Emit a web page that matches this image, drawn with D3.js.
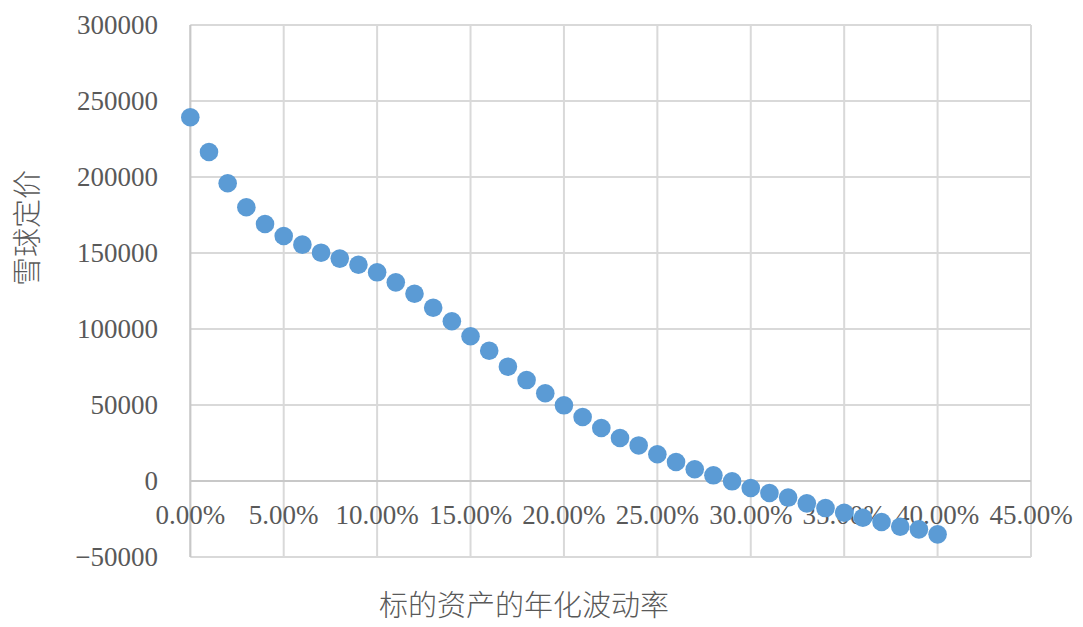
<!DOCTYPE html>
<html>
<head>
<meta charset="utf-8">
<script src="https://cdn.jsdelivr.net/npm/d3@7"></script>
<style>
  html, body { margin: 0; padding: 0; background: #fff; }
  svg { display: block; }
</style>
</head>
<body>
<svg id="chart" width="1083" height="627"></svg>
<script>
// ---- data ----
const volatility = [0,0.01,0.02,0.03,0.04,0.05,0.06,0.07,0.08,0.09,0.10,0.11,0.12,0.13,0.14,0.15,0.16,0.17,0.18,0.19,0.20,0.21,0.22,0.23,0.24,0.25,0.26,0.27,0.28,0.29,0.30,0.31,0.32,0.33,0.34,0.35,0.36,0.37,0.38,0.39,0.40];
const snowballPrice = [239300,216450,195900,180100,169100,161200,155500,150200,146300,142300,137300,130700,123200,114000,105100,95200,85700,75200,66400,57700,49800,42100,34900,28300,23400,17600,12500,7700,3750,-200,-4600,-7900,-10900,-14700,-17800,-20900,-24200,-27000,-30100,-31800,-35100];
const xTicks = [0,0.05,0.10,0.15,0.20,0.25,0.30,0.35,0.40,0.45];
const yTicks = [-50000,0,50000,100000,150000,200000,250000,300000];
const xTitle = "标的资产的年化波动率";
const yTitle = "雪球定价";

// ---- layout ----
(function () {
const svg = d3.select("#chart");
const mLeft = 190.3, mRight = 1031, mTop = 25, mBottom = 557;
const x = d3.scaleLinear().domain([0, 0.45]).range([mLeft, mRight]);
const y = d3.scaleLinear().domain([-50000, 300000]).range([mBottom, mTop]);
const numFont = "'Liberation Serif', 'Times New Roman', serif";
const cjkFont = "'Noto Sans CJK SC', sans-serif";
const textColor = "#595959";

// gridlines
svg.append("g").selectAll("line").data(yTicks.filter(d => d !== 0)).join("line")
  .attr("x1", mLeft).attr("x2", mRight)
  .attr("y1", d => y(d)).attr("y2", d => y(d))
  .attr("stroke", "#d9d9d9").attr("stroke-width", 2);
svg.append("g").selectAll("line").data(xTicks.filter(d => d !== 0)).join("line")
  .attr("y1", mTop).attr("y2", mBottom)
  .attr("x1", d => x(d)).attr("x2", d => x(d))
  .attr("stroke", "#d9d9d9").attr("stroke-width", 2);

// axis lines
svg.append("line").attr("x1", mLeft).attr("x2", mRight).attr("y1", y(0)).attr("y2", y(0))
  .attr("stroke", "#c8c8c8").attr("stroke-width", 2.2);
svg.append("line").attr("x1", x(0)).attr("x2", x(0)).attr("y1", mTop).attr("y2", mBottom)
  .attr("stroke", "#c8c8c8").attr("stroke-width", 2.2);

// y tick labels
svg.append("g").selectAll("text").data(yTicks).join("text")
  .attr("x", 158).attr("y", d => y(d))
  .attr("dy", "0.35em")
  .attr("text-anchor", "end")
  .attr("font-family", numFont).attr("font-size", 27)
  .attr("fill", textColor)
  .text(d => d3.format("d")(d));

// x tick labels
svg.append("g").selectAll("text").data(xTicks).join("text")
  .attr("x", d => x(d)).attr("y", y(0) + 34)
  .attr("dy", "0.35em")
  .attr("text-anchor", "middle")
  .attr("font-family", numFont).attr("font-size", 27)
  .attr("fill", textColor)
  .text(d => d3.format(".2%")(d));

// points
svg.append("g").selectAll("circle").data(volatility).join("circle")
  .attr("cx", d => x(d))
  .attr("cy", (d, i) => y(snowballPrice[i]))
  .attr("r", 9.3)
  .attr("fill", "#5b9bd5");

// axis titles
svg.append("text")
  .attr("x", 524).attr("y", 606).attr("dy", "0.35em")
  .attr("text-anchor", "middle")
  .attr("font-family", cjkFont).attr("font-size", 29).attr("font-weight", 300)
  .attr("fill", textColor)
  .text(xTitle);
svg.append("text")
  .attr("transform", "translate(28,228) rotate(-90)")
  .attr("dy", "0.35em")
  .attr("text-anchor", "middle")
  .attr("font-family", cjkFont).attr("font-size", 29).attr("font-weight", 300)
  .attr("fill", textColor)
  .text(yTitle);
})();
</script>
</body>
</html>
